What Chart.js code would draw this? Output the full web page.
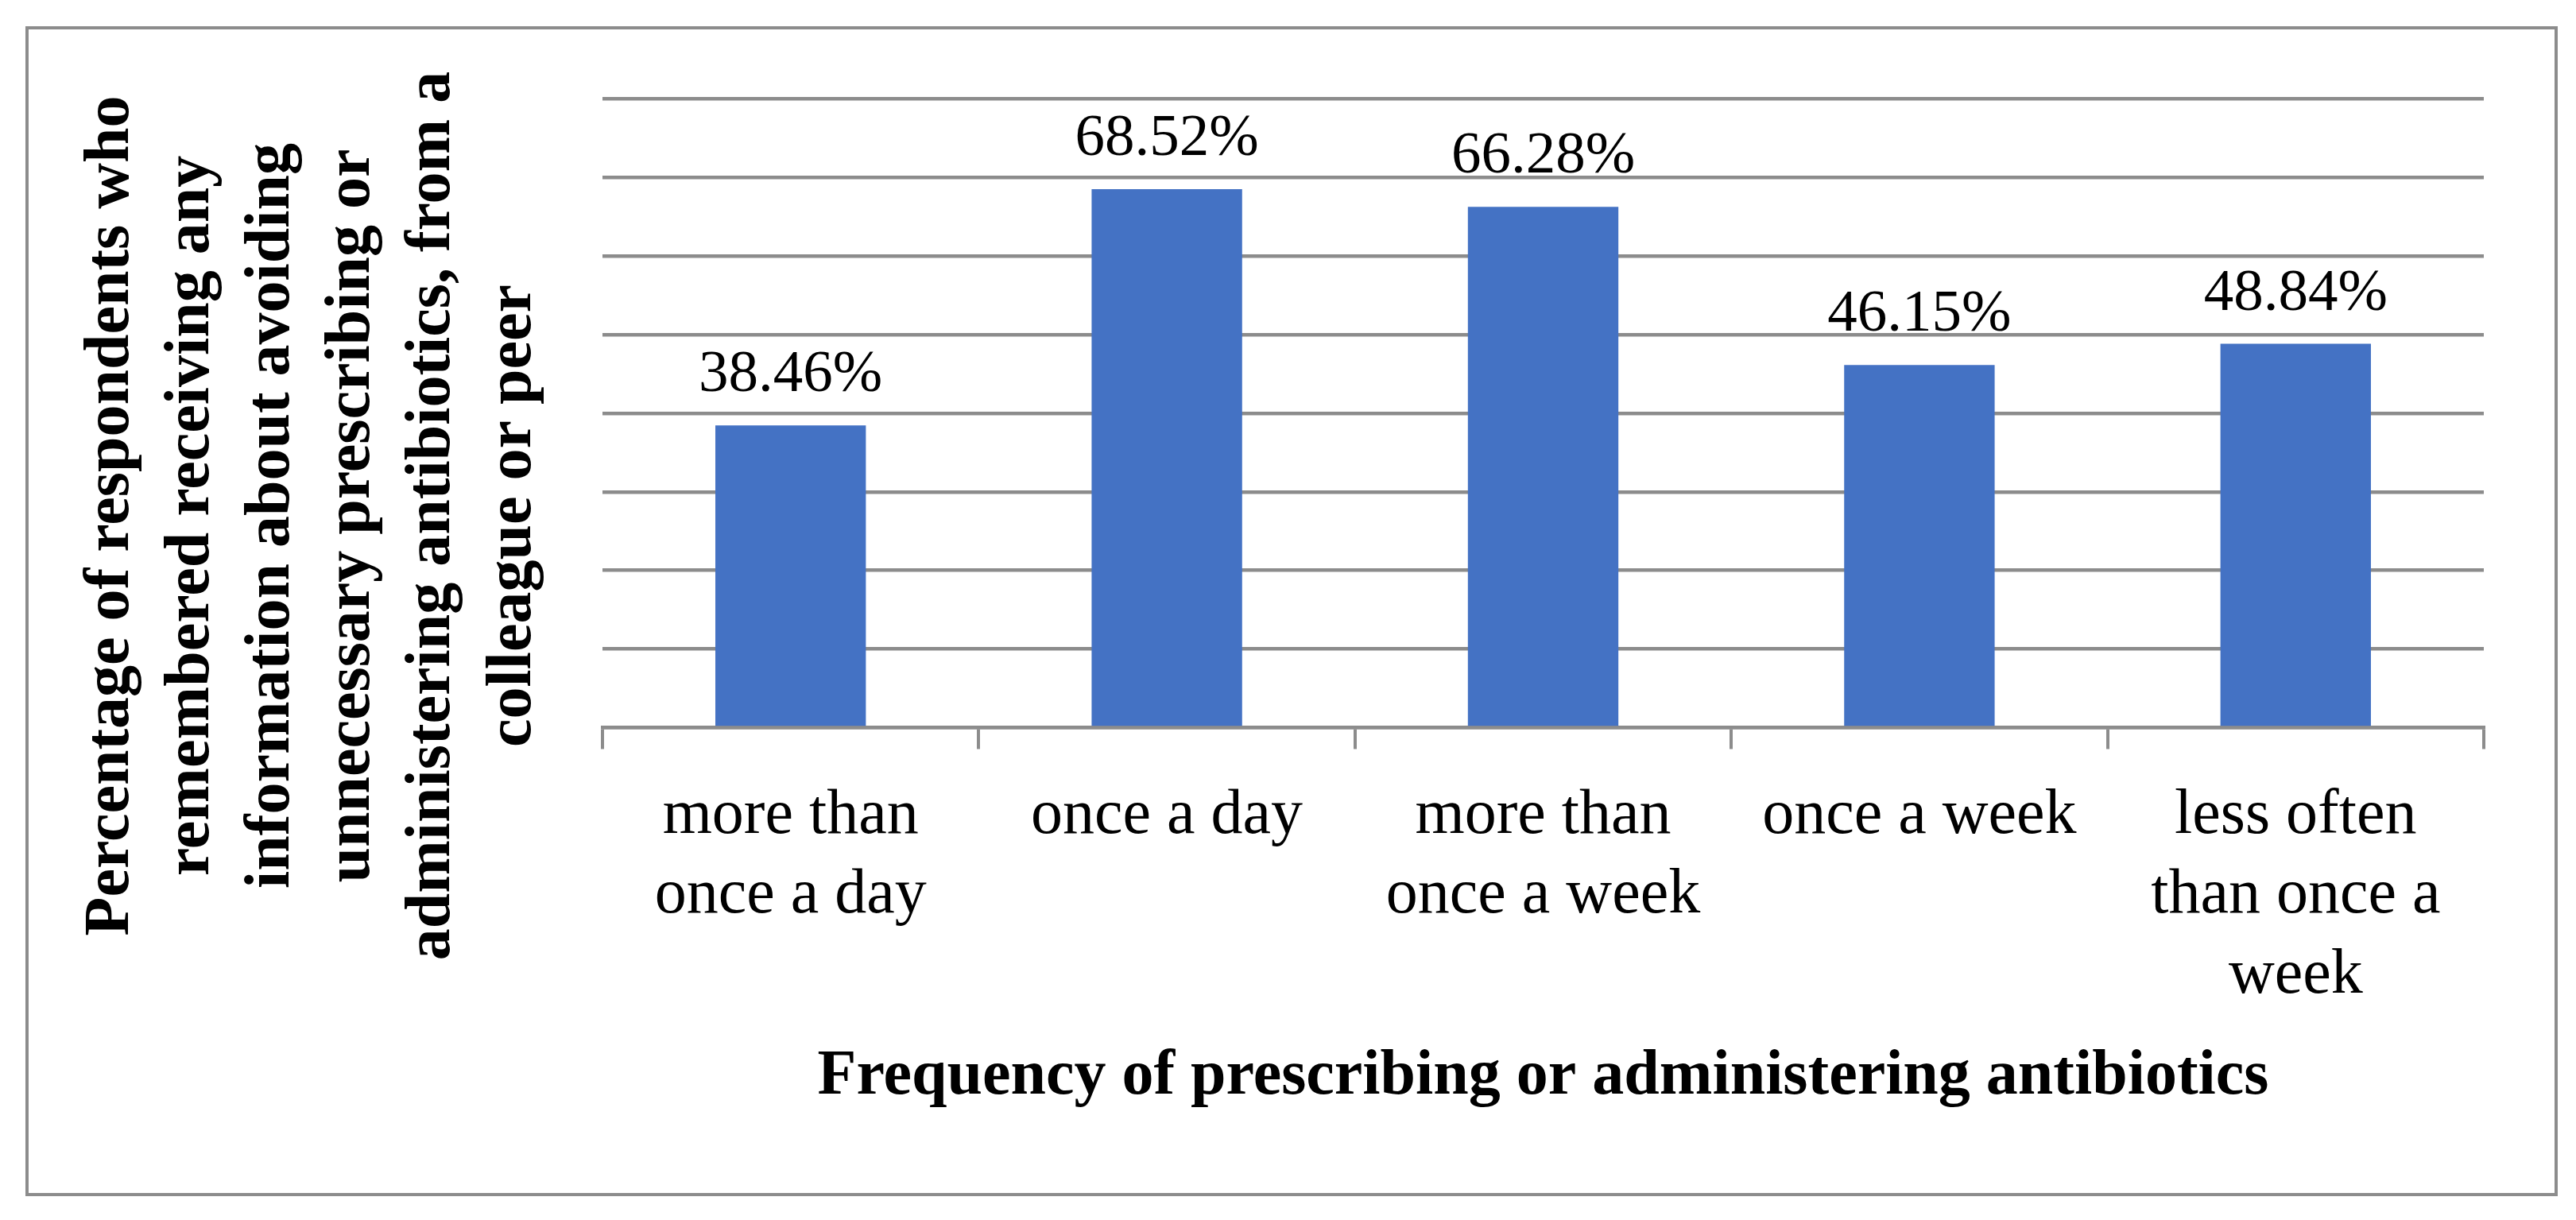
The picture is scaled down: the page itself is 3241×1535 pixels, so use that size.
<!DOCTYPE html>
<html>
<head>
<meta charset="utf-8">
<script src="https://cdn.jsdelivr.net/npm/chart.js@4.4.0/dist/chart.umd.min.js"></script>
<style>
  body { margin: 0; background: #fff; }
  #frame {
    position: absolute; left: 32px; top: 33px;
    width: 3186px; height: 1472px;
    box-sizing: border-box; border: 4px solid #8c8c8c;
  }
  #bars { position: absolute; left: 0; top: 0; }
</style>
</head>
<body>
<div id="frame"></div>
<canvas id="bars" width="3241" height="1535"></canvas>
<script>
var categories = [
  ['more than', 'once a day'],
  'once a day',
  ['more than', 'once a week'],
  'once a week',
  ['less often', 'than once a', 'week']
];
var values = [38.46, 68.52, 66.28, 46.15, 48.84];
var yTitle = [
  'Percentage of respondents who',
  'remembered receiving any',
  'information about avoiding',
  'unnecessary prescribing or',
  'administering antibiotics, from a',
  'colleague or peer'
];
var xTitle = 'Frequency of prescribing or administering antibiotics';

var gray = '#8c8c8c';
var serif = "'Liberation Serif', 'Times New Roman', serif";

// percentage labels above each bar
var barLabels = {
  id: 'barLabels',
  afterDatasetsDraw: function (chart) {
    var ctx = chart.ctx;
    var meta = chart.getDatasetMeta(0);
    ctx.save();
    ctx.font = '75px ' + serif;
    ctx.fillStyle = '#000';
    ctx.textAlign = 'center';
    ctx.textBaseline = 'alphabetic';
    meta.data.forEach(function (bar, i) {
      ctx.fillText(values[i].toFixed(2) + '%', bar.x, bar.y - 43);
    });
    ctx.restore();
  }
};

// rotated multi-line y axis title
var sideTitle = {
  id: 'sideTitle',
  afterDraw: function (chart) {
    var ctx = chart.ctx;
    ctx.save();
    ctx.font = 'bold 80px ' + serif;
    ctx.fillStyle = '#000';
    ctx.textAlign = 'center';
    ctx.textBaseline = 'middle';
    yTitle.forEach(function (line, i) {
      ctx.save();
      ctx.translate(140 + i * 101.2, 649);
      ctx.rotate(-Math.PI / 2);
      ctx.fillText(line, 0, 0);
      ctx.restore();
    });
    ctx.restore();
  }
};

new Chart(document.getElementById('bars').getContext('2d'), {
  type: 'bar',
  data: {
    labels: categories,
    datasets: [{
      data: values,
      backgroundColor: '#4472C4',
      borderWidth: 0,
      categoryPercentage: 1,
      barPercentage: 0.4
    }]
  },
  options: {
    responsive: false,
    animation: false,
    layout: { padding: { left: 758, right: 116, top: 124.5, bottom: 140 } },
    plugins: {
      legend: { display: false },
      tooltip: { enabled: false }
    },
    scales: {
      x: {
        grid: {
          display: true,
          offset: true,
          drawOnChartArea: false,
          drawTicks: true,
          tickLength: 27,
          color: gray,
          lineWidth: 4
        },
        border: { display: true, color: gray, width: 4.5 },
        ticks: {
          color: '#000',
          padding: 34.3,
          maxRotation: 0,
          autoSkip: false,
          font: { family: serif, size: 80, lineHeight: 1.256 }
        },
        title: {
          display: true,
          text: xTitle,
          color: '#000',
          padding: { top: 2.5, bottom: 0 },
          font: { family: serif, size: 80, weight: 'bold', lineHeight: 1 }
        }
      },
      y: {
        min: 0,
        max: 80,
        ticks: { display: false, stepSize: 10 },
        grid: { color: gray, lineWidth: 4.5, drawTicks: false },
        border: { display: false }
      }
    }
  },
  plugins: [barLabels, sideTitle]
});
</script>
</body>
</html>
